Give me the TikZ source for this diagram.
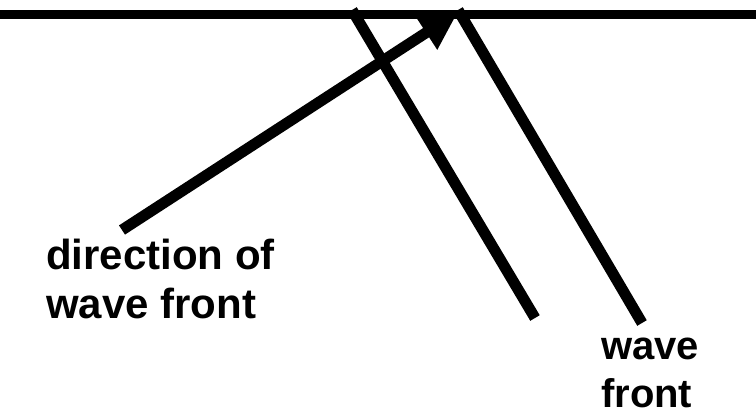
\documentclass[tikz,border=0pt]{standalone}
\usepackage{fontspec}
\setmainfont{Liberation Sans}
\usetikzlibrary{arrows.meta}
\begin{document}
\begin{tikzpicture}[x=1pt,y=-1pt,
  surface/.style={line width=9pt},
  front/.style={line width=11pt},
  dirarrow/.style={line width=11pt,-{Triangle[length=38pt,width=38pt]}},
  label/.style={inner sep=0pt,align=left}]
\useasboundingbox (0,0) rectangle (756,414);
\coordinate (sL) at (0,15);
\coordinate (sR) at (756,15);
\coordinate (f1a) at (352,10);
\coordinate (f1b) at (535,318);
\coordinate (f2a) at (458,10);
\coordinate (f2b) at (642,323);
\coordinate (aTail) at (122,230);
\coordinate (aTip) at (458,12);
\draw[surface] (sL) -- (sR);
\draw[front] (f1a) -- (f1b);
\draw[front] (f2a) -- (f2b);
\draw[dirarrow] (aTail) -- (aTip);
\node[label,anchor=base west,font=\bfseries\fontsize{42}{49}\selectfont] (dirlabel) at (46,319)
  {direction of\\wave front};
\node[label,anchor=base west,font=\bfseries\fontsize{40}{48}\selectfont] (wflabel) at (601,407)
  {wave\\front};
\end{tikzpicture}
\end{document}
